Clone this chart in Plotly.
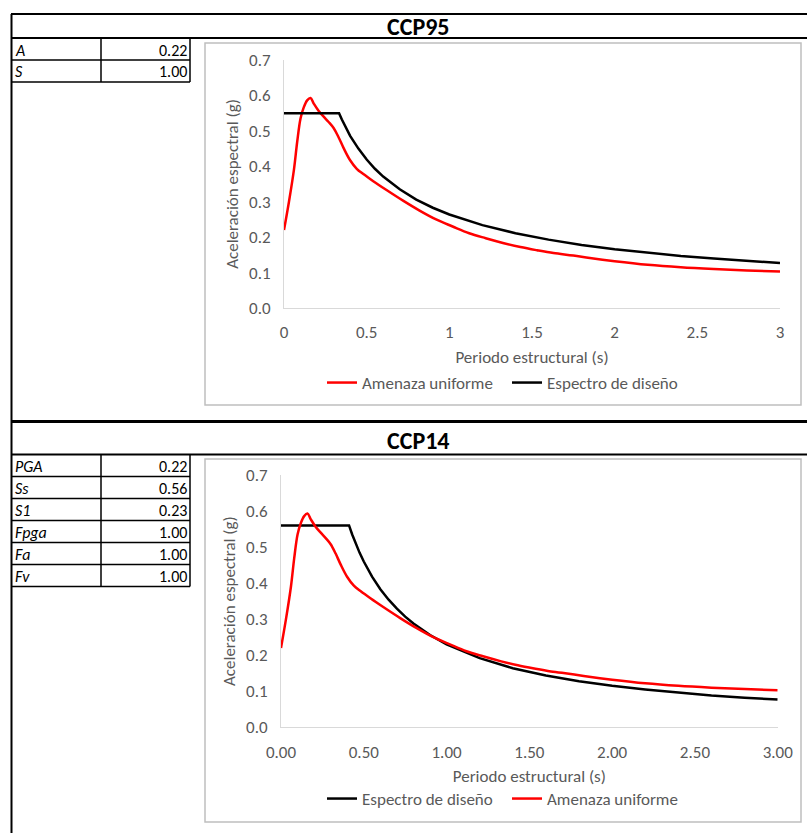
import plotly.graph_objects as go

# ---------------- data ----------------
params95_names = ["A", "S"]
params95_values = [0.22, 1.00]
params14_names = ["PGA", "Ss", "S1", "Fpga", "Fa", "Fv"]
params14_values = [0.22, 0.56, 0.23, 1.00, 1.00, 1.00]

# Amenaza uniforme (uniform hazard spectrum)
T_uhs = [0, 0.03, 0.06, 0.08, 0.10, 0.12, 0.14, 0.16, 0.18, 0.21, 0.24, 0.27, 0.30, 0.33,
         0.36, 0.40, 0.44, 0.48, 0.54, 0.62, 0.72, 0.82, 0.92, 1.02, 1.12, 1.22, 1.33,
         1.43, 1.53, 1.63, 1.75, 1.85, 2.00, 2.20, 2.40, 2.60, 2.80, 3.00]
Sa_uhs = [0.22, 0.30, 0.39, 0.47, 0.535, 0.567, 0.586, 0.593, 0.577, 0.556, 0.540, 0.525,
          0.508, 0.482, 0.452, 0.417, 0.393, 0.378, 0.358, 0.333, 0.303, 0.275, 0.250,
          0.230, 0.211, 0.197, 0.183, 0.172, 0.163, 0.155, 0.148, 0.141, 0.132, 0.122,
          0.115, 0.110, 0.106, 0.103]

# Espectro de diseño CCP95
T_95 = [0, 0.333, 0.35, 0.40, 0.45, 0.50, 0.55, 0.60, 0.70, 0.80, 0.90, 1.00, 1.20, 1.40,
        1.60, 1.80, 2.00, 2.20, 2.40, 2.60, 2.80, 3.00]
Sa_95 = [0.55, 0.55, 0.532, 0.486, 0.450, 0.419, 0.393, 0.371, 0.335, 0.306, 0.283, 0.264,
         0.234, 0.211, 0.193, 0.178, 0.166, 0.156, 0.147, 0.140, 0.133, 0.127]

# Espectro de diseño CCP14
T_14 = [0, 0.411, 0.43, 0.45, 0.475, 0.50, 0.55, 0.60, 0.65, 0.70, 0.75, 0.80, 0.90, 1.00,
        1.20, 1.40, 1.60, 1.80, 2.00, 2.20, 2.40, 2.60, 2.80, 3.00]
Sa_14 = [0.56, 0.56, 0.535, 0.511, 0.484, 0.460, 0.418, 0.383, 0.354, 0.329, 0.307, 0.288,
         0.256, 0.230, 0.192, 0.164, 0.144, 0.128, 0.115, 0.105, 0.096, 0.088, 0.082, 0.077]

x_ticks_95 = [0, 0.5, 1, 1.5, 2, 2.5, 3]
x_ticks_14 = [0, 0.5, 1, 1.5, 2, 2.5, 3]

# ---------------- layout ----------------
W, H = 807, 833
FONT = "Calibri, Carlito, 'Liberation Sans Narrow', 'Liberation Sans', sans-serif"
GRAY = "#595959"
CH = 17  # chart font size


def px(x):
    return x / W


def py(y):
    return 1 - y / H


fig = go.Figure()

# CCP95 chart
fig.add_trace(go.Scatter(x=T_uhs, y=Sa_uhs, mode="lines", name="Amenaza uniforme",
                         line=dict(color="#ff0000", width=2.5, shape="spline", smoothing=1),
                         xaxis="x", yaxis="y", legend="legend"))
fig.add_trace(go.Scatter(x=T_95, y=Sa_95, mode="lines", name="Espectro de diseño",
                         line=dict(color="#000000", width=2.5),
                         xaxis="x", yaxis="y", legend="legend"))
# CCP14 chart
fig.add_trace(go.Scatter(x=T_14, y=Sa_14, mode="lines", name="Espectro de diseño",
                         line=dict(color="#000000", width=2.5),
                         xaxis="x2", yaxis="y2", legend="legend2"))
fig.add_trace(go.Scatter(x=T_uhs, y=Sa_uhs, mode="lines", name="Amenaza uniforme",
                         line=dict(color="#ff0000", width=2.5, shape="spline", smoothing=1),
                         xaxis="x2", yaxis="y2", legend="legend2"))

axis_common = dict(showgrid=False, zeroline=False, showline=True, linecolor="#d9d9d9",
                   linewidth=1, ticks="", tickfont=dict(family=FONT, size=CH, color=GRAY),
                   ticklabelstandoff=9, automargin=False)

shapes = []
annotations = []


def hline(y, x0, x1, w=2, color="black"):
    shapes.append(dict(type="line", xref="paper", yref="paper", x0=px(x0), x1=px(x1),
                       y0=py(y), y1=py(y), line=dict(color=color, width=w)))


def vline(x, y0, y1, w=2, color="black"):
    shapes.append(dict(type="line", xref="paper", yref="paper", x0=px(x), x1=px(x),
                       y0=py(y0), y1=py(y1), line=dict(color=color, width=w)))


def box(x0, y0, x1, y1):
    shapes.append(dict(type="rect", xref="paper", yref="paper", x0=px(x0), x1=px(x1),
                       y0=py(y1), y1=py(y0), line=dict(color="#bfbfbf", width=1.5),
                       layer="below"))


def text(x, y, s, anchor="left", size=16, bold=False, italic=False):
    if bold:
        s = "<b>" + s + "</b>"
    if italic:
        s = "<i>" + s + "</i>"
    annotations.append(dict(x=px(x), y=py(y), xref="paper", yref="paper", text=s,
                            showarrow=False, xanchor=anchor, yanchor="middle",
                            font=dict(family=FONT, size=size, color="black")))


# outer frame
hline(14, 11, W)
vline(11.5, 14, H)

# section 1 (CCP95)
hline(38, 11, W)
box(205, 43, 801, 405)
row_top = 38
row_h = 22
for i, (n, v) in enumerate(zip(params95_names, params95_values)):
    y0 = row_top + i * row_h
    y1 = y0 + row_h
    hline(y1, 11, 190, 1.5)
    text(13, (y0 + y1) / 2 + 1, n, italic=True)
    text(189, (y0 + y1) / 2 + 1, f"{v:.2f}", anchor="right")
vline(101, row_top, row_top + row_h * len(params95_names), 1.5)
vline(190, row_top, row_top + row_h * len(params95_names), 1.5)
text(418, 26, "CCP95", anchor="center", size=24, bold=True)

# section 2 (CCP14)
hline(421.5, 11, W, 3)
hline(454.5, 11, W, 2)
box(205, 459, 801, 822)
row_top = 454.5
row_h = 22
for i, (n, v) in enumerate(zip(params14_names, params14_values)):
    y0 = row_top + i * row_h
    y1 = y0 + row_h
    hline(y1, 11, 190, 1.5)
    text(13, (y0 + y1) / 2 + 1, n, italic=True)
    text(189, (y0 + y1) / 2 + 1, f"{v:.2f}", anchor="right")
vline(101, row_top, row_top + row_h * len(params14_names), 1.5)
vline(190, row_top, row_top + row_h * len(params14_names), 1.5)
text(418, 440, "CCP14", anchor="center", size=24, bold=True)

title_font = dict(family=FONT, size=CH, color=GRAY)
legend_common = dict(orientation="h", xanchor="left", yanchor="middle",
                     font=dict(family=FONT, size=CH, color=GRAY), bgcolor="rgba(0,0,0,0)",
                     itemwidth=30, entrywidth=140, entrywidthmode="pixels")

fig.update_layout(
    width=W, height=H, margin=dict(l=0, r=0, t=0, b=0, pad=0, autoexpand=False),
    paper_bgcolor="white", plot_bgcolor="white",
    font=dict(family=FONT, size=CH, color=GRAY),
    xaxis=dict(domain=[px(284), px(780)], range=[0, 3], tickvals=x_ticks_95,
               ticktext=[f"{t:g}" for t in x_ticks_95],
               title=dict(text="Periodo estructural (s)", font=title_font, standoff=8),
               anchor="y", **axis_common),
    yaxis=dict(domain=[py(308), py(60)], range=[0, 0.7], dtick=0.1, tickformat=".1f",
               title=dict(text="Aceleración espectral (g)", font=title_font, standoff=6),
               anchor="x", **axis_common),
    xaxis2=dict(domain=[px(281), px(777.7)], range=[0, 3], tickvals=x_ticks_14,
                ticktext=[f"{t:.2f}" for t in x_ticks_14],
                title=dict(text="Periodo estructural (s)", font=title_font, standoff=8),
                anchor="y2", **axis_common),
    yaxis2=dict(domain=[py(727.3), py(475)], range=[0, 0.7], dtick=0.1, tickformat=".1f",
                title=dict(text="Aceleración espectral (g)", font=title_font, standoff=6),
                anchor="x2", **axis_common),
    legend=dict(x=px(322), y=py(383), **legend_common),
    legend2=dict(x=px(322), y=py(799), **legend_common),
    shapes=shapes,
    annotations=annotations,
    showlegend=True,
)

fig.write_html(
    "out.html",
    config={"displayModeBar": False},
    post_script="document.body.style.margin='0';document.body.style.overflow='hidden';",
)
